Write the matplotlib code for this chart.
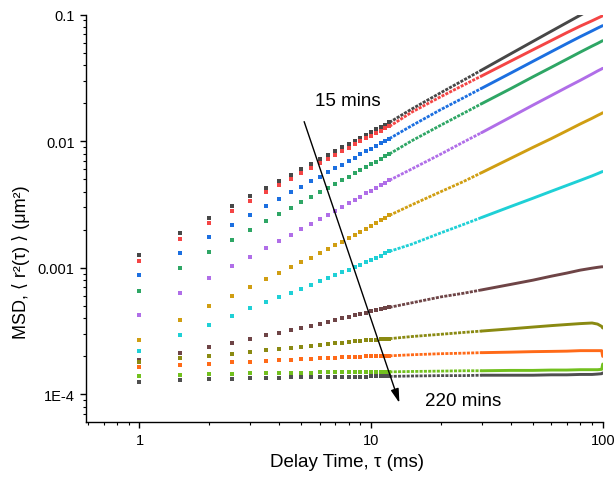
import numpy as np
import matplotlib
matplotlib.use('Agg')
import matplotlib.pyplot as plt
import matplotlib.ticker as mticker

plt.rcParams['font.family'] = ['Liberation Sans', 'DejaVu Sans']

# delay times (ms): separate dots, then the dense part drawn as a line
aTau_dot = [1, 1.5, 2, 2.5, 3, 3.5, 4, 4.5, 5, 5.5, 6, 6.5, 7, 7.5, 8, 8.5,
            9, 9.5, 10, 10.5, 11, 11.5, 12]
aTau_line = [12, 15, 20, 25, 30, 40, 50, 60, 70, 80, 90, 95, 99, 100]
iBead_end = 4  # up to tau = 30 the dense points still look like beads

# msd values in units of 1e-4 um^2, 15 mins (top) to 220 mins (bottom)
black_dot = [12.7, 18.8, 24.6, 30.7, 36.8, 42.5, 48.6, 54.5, 60.1, 66.2, 72.1, 78.0,
             83.8, 89.7, 95.2, 101, 107, 113, 118, 124, 130, 135, 141]
red_dot = [11.3, 16.9, 22.6, 28.1, 33.8, 39.6, 45.2, 50.4, 56.2, 61.9, 67.4, 72.9,
           78.3, 83.8, 89.0, 94.7, 100, 106, 111, 116, 121, 127, 131]
blue_dot = [8.74, 13.2, 17.6, 21.9, 26.4, 30.8, 35.0, 39.6, 43.8, 48.3, 52.5, 56.9,
            61.2, 65.3, 69.9, 74.2, 78.9, 83.4, 87.4, 91.8, 96.4, 101, 105]
green_dot = [6.61, 9.93, 13.4, 16.7, 20.0, 23.3, 26.5, 29.7, 33.2, 36.3, 39.6, 42.8,
             46.0, 49.2, 52.5, 55.9, 59.3, 62.7, 65.8, 69.0, 72.5, 76.1, 79.4]
purple_dot = [4.27, 6.33, 8.32, 10.3, 12.3, 14.4, 16.3, 18.2, 20.2, 22.2, 24.3, 26.3,
              28.3, 30.4, 32.4, 34.4, 36.5, 38.8, 40.7, 43.0, 45.2, 47.1, 49.2]
gold_dot = [2.71, 3.88, 4.97, 6.03, 7.06, 8.13, 9.07, 10.1, 11.1, 12.0, 13.1, 14.1,
            15.2, 16.1, 17.2, 18.3, 19.3, 20.4, 21.5, 22.6, 23.8, 24.9, 26.0]
cyan_dot = [2.21, 2.94, 3.56, 4.17, 4.78, 5.35, 5.86, 6.37, 6.85, 7.37, 7.84, 8.32,
            8.76, 9.23, 9.66, 10.1, 10.6, 11.1, 11.5, 12.0, 12.5, 13.0, 13.5]
brown_dot = [1.86, 2.14, 2.37, 2.55, 2.74, 2.94, 3.08, 3.22, 3.35, 3.49, 3.62, 3.76,
             3.88, 4.00, 4.10, 4.22, 4.32, 4.43, 4.54, 4.63, 4.71, 4.80, 4.88]
olive_dot = [1.82, 1.93, 2.03, 2.10, 2.17, 2.23, 2.29, 2.33, 2.37, 2.42, 2.46, 2.51,
             2.54, 2.57, 2.61, 2.63, 2.66, 2.68, 2.70, 2.71, 2.73, 2.74, 2.76]
orange_dot = [1.65, 1.72, 1.75, 1.80, 1.82, 1.85, 1.86, 1.88, 1.91, 1.92, 1.93, 1.94,
              1.95, 1.96, 1.97, 1.98, 1.99, 2.00, 2.00, 2.01, 2.01, 2.01, 2.02]
lgreen_dot = [1.39, 1.43, 1.44, 1.46, 1.47, 1.47, 1.49, 1.49, 1.49, 1.49, 1.50, 1.50,
              1.50, 1.50, 1.50, 1.50, 1.50, 1.51, 1.51, 1.51, 1.51, 1.51, 1.51]
gray_dot = [1.26, 1.30, 1.32, 1.33, 1.34, 1.35, 1.35, 1.37, 1.37, 1.37, 1.37, 1.38,
            1.38, 1.38, 1.38, 1.38, 1.38, 1.38, 1.39, 1.39, 1.39, 1.39, 1.39]

black_line = [141, 180, 242, 303, 365, 490, 615, 740, 865, 990, 1115, 1176, 1227, 1240]
red_line = [131, 170, 225, 277, 328, 429, 528, 625, 721, 812, 895, 938, 972, 980]
blue_line = [105, 133, 178, 220, 262, 345, 428, 510, 591, 670, 745, 783, 812, 819]
green_line = [79.4, 101, 134, 166, 198, 260, 323, 384, 445, 506, 565, 593, 617, 623]
purple_line = [49.2, 60.5, 79.2, 98.4, 117, 155, 193, 230, 267, 303, 340, 359, 373, 377]
gold_line = [26.0, 31.5, 40.0, 48.0, 56.5, 73.2, 89.5, 105, 121, 137, 152, 160, 166, 168]
cyan_line = [13.5, 15.4, 18.9, 22.0, 25.0, 30.5, 35.5, 40.3, 44.8, 49.1, 53.3, 55.5, 57.3, 57.7]
brown_line = [4.88, 5.3, 5.9, 6.3, 6.7, 7.4, 8.0, 8.6, 9.1, 9.6, 9.95, 10.1, 10.2, 10.2]
olive_line = [2.76, 2.87, 2.99, 3.09, 3.17, 3.30, 3.41, 3.50, 3.57, 3.63, 3.67, 3.60, 3.45, 3.35]
orange_line = [2.02, 2.06, 2.10, 2.12, 2.14, 2.16, 2.18, 2.19, 2.20, 2.22, 2.22, 2.22, 2.22, 2.00]
lgreen_line = [1.51, 1.52, 1.53, 1.54, 1.54, 1.55, 1.55, 1.56, 1.56, 1.57, 1.57, 1.57, 1.58, 1.74]
gray_line = [1.39, 1.40, 1.41, 1.41, 1.42, 1.42, 1.42, 1.43, 1.43, 1.44, 1.44, 1.45, 1.46, 1.48]

aDot = [black_dot, red_dot, blue_dot, green_dot, purple_dot, gold_dot,
        cyan_dot, brown_dot, olive_dot, orange_dot, lgreen_dot, gray_dot]
aLine = [black_line, red_line, blue_line, green_line, purple_line, gold_line,
         cyan_line, brown_line, olive_line, orange_line, lgreen_line, gray_line]
aColor = ['#474747', '#f44545', '#1c6fe0', '#2ea665', '#b06ee8', '#d09e12',
          '#1fd0d6', '#6e4446', '#8a8a12', '#ff6a18', '#72c01e', '#4f4f4f']

fig = plt.figure(figsize=(6.16, 4.85), dpi=100)
ax = fig.add_axes([0.1403, 0.1285, 0.8381, 0.8392])

for i in range(len(aDot)):
    aY = np.array(aLine[i]) * 1e-4
    # beaded part, then solid
    ax.plot(aTau_line[:iBead_end + 1], aY[:iBead_end + 1], color=aColor[i], lw=2.0,
            ls=(0, (1.1, 0.45)), dash_capstyle='butt', zorder=2)
    ax.plot(aTau_line[iBead_end:], aY[iBead_end:], '-', color=aColor[i], lw=2.1,
            solid_capstyle='round', zorder=2)
    ax.plot(aTau_dot, np.array(aDot[i]) * 1e-4, 's', color=aColor[i], ms=2.3,
            mew=0, zorder=3)

ax.set_xscale('log')
ax.set_yscale('log')
ax.set_xlim(0.59, 100)
ax.set_ylim(6.1e-5, 0.1)

ax.set_xticks([1, 10, 100])
ax.set_xticklabels(['1', '10', '100'])
ax.set_yticks([1e-4, 1e-3, 1e-2, 1e-1])
ax.set_yticklabels(['1E-4', '0.001', '0.01', '0.1'])
ax.xaxis.set_minor_formatter(mticker.NullFormatter())
ax.yaxis.set_minor_formatter(mticker.NullFormatter())

for s in ['top', 'right']:
    ax.spines[s].set_visible(False)
for s in ['left', 'bottom']:
    ax.spines[s].set_linewidth(1.0)
ax.tick_params(which='major', direction='out', length=4.5, width=1.0,
               labelsize=10.5, pad=4)
ax.tick_params(which='minor', direction='out', length=2.5, width=0.8)

ax.set_xlabel('Delay Time, \u03c4 (ms)', fontsize=13.5)
ax.xaxis.set_label_coords(0.504, -0.076)
fig.text(21 / 616, 1 - 262 / 485, 'MSD, \u27e8 r\u00b2(\u03c4) \u27e9 (\u03bcm\u00b2)',
         fontsize=13, rotation=90, ha='center', va='center')

# time direction arrow
ax.annotate('', xy=(13.25, 8.58e-5), xytext=(5.14, 0.01429),
            arrowprops=dict(arrowstyle='-|>,head_length=0.7,head_width=0.2',
                            color='black', lw=1.0, mutation_scale=12,
                            shrinkA=0, shrinkB=0), zorder=5)
ax.text(7.93, 0.02094, '15 mins', fontsize=13.5, ha='center', va='center')
ax.text(24.9, 8.93e-5, '220 mins', fontsize=13.5, ha='center', va='center')

fig.savefig('out.png', dpi=100)
